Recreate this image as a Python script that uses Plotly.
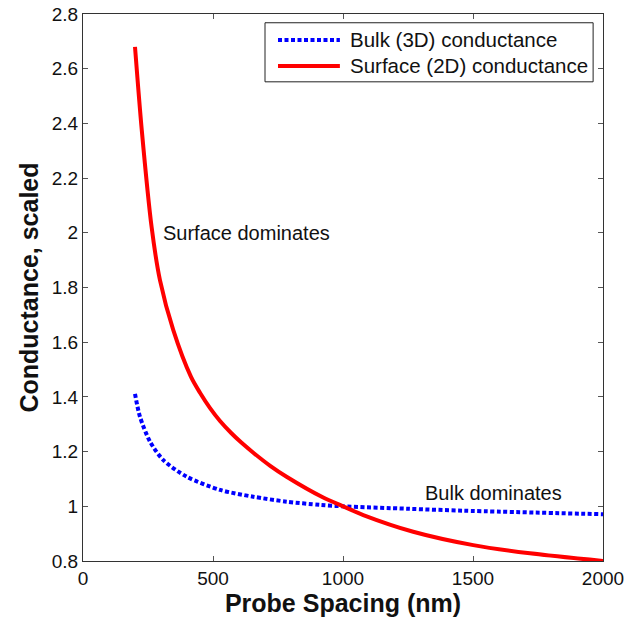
import plotly.graph_objects as go

# Probe spacing (nm) and scaled conductance for the surface (2D) model
surface_x = [200, 226, 264, 296, 347, 415, 450, 488, 527, 570, 610, 655, 720, 783, 924, 1000,
             1078, 1270, 1501, 1719, 2000]
surface_y = [2.68, 2.376, 2.02, 1.827, 1.645, 1.474, 1.415, 1.36, 1.312, 1.268, 1.232, 1.196,
             1.148, 1.108, 1.032, 1.0, 0.968, 0.907, 0.858, 0.828, 0.80]

# Probe spacing (nm) and scaled conductance for the bulk (3D) model
bulk_x = [200, 219, 258, 309, 399, 527, 655, 783, 912, 1000, 1250, 1463, 2000]
bulk_y = [1.411, 1.328, 1.236, 1.169, 1.108, 1.06, 1.035, 1.017, 1.005, 1.0, 0.991, 0.984, 0.971]

series_names = ["Bulk (3D) conductance", "Surface (2D) conductance"]
series_colors = ["#0000ff", "#ff0000"]

x_ticks = [0, 500, 1000, 1500, 2000]
y_ticks = [0.8, 1.0, 1.2, 1.4, 1.6, 1.8, 2.0, 2.2, 2.4, 2.6, 2.8]
y_tick_labels = ["0.8", "1", "1.2", "1.4", "1.6", "1.8", "2", "2.2", "2.4", "2.6", "2.8"]

font_family = "Liberation Sans, Arial, sans-serif"
text_color = "#111111"
dot_dash = "4px,2.5px"

fig = go.Figure()
fig.add_trace(go.Scatter(
    x=bulk_x, y=bulk_y, mode="lines", name=series_names[0], showlegend=False,
    line=dict(color=series_colors[0], width=4, dash=dot_dash, shape="spline", smoothing=0.8),
))
fig.add_trace(go.Scatter(
    x=surface_x, y=surface_y, mode="lines", name=series_names[1], showlegend=False,
    line=dict(color=series_colors[1], width=4, shape="spline", smoothing=0.8),
))

# Text labels inside the plot
fig.add_annotation(x=300, y=2.0, text="Surface dominates", showarrow=False,
                   xanchor="left", yanchor="middle",
                   font=dict(family=font_family, size=20, color=text_color))
fig.add_annotation(x=1306, y=1.047, text="Bulk dominates", showarrow=False,
                   xanchor="left", yanchor="middle",
                   font=dict(family=font_family, size=20, color=text_color))

# Boxed legend in the upper right corner (paper coordinates)
legend_box = dict(x0=0.35, x1=0.981, y0=0.876, y1=0.984)
legend_rows = [0.9525, 0.905]
legend_line_x = (0.375, 0.494)
legend_text_x = 0.5096

fig.add_shape(type="rect", xref="paper", yref="paper", **legend_box,
              line=dict(color="#222222", width=1), fillcolor="white", layer="above")
for row_y, name, color, dash in zip(legend_rows, series_names, series_colors, [dot_dash, "solid"]):
    fig.add_shape(type="line", xref="paper", yref="paper",
                  x0=legend_line_x[0], x1=legend_line_x[1], y0=row_y, y1=row_y,
                  line=dict(color=color, width=4, dash=dash), layer="above")
    fig.add_annotation(xref="paper", yref="paper", x=legend_text_x, y=row_y, text=name,
                       showarrow=False, xanchor="left", yanchor="middle",
                       font=dict(family=font_family, size=20.5, color=text_color))

axis_common = dict(
    showline=True, linecolor="#333333", linewidth=1, mirror="ticks",
    ticks="inside", ticklen=5, tickcolor="#555555", showgrid=False, zeroline=False,
    automargin=False,
    tickfont=dict(family=font_family, size=19, color=text_color),
)

fig.update_layout(
    width=626, height=626,
    margin=dict(l=83, r=23, t=14, b=65),
    paper_bgcolor="white", plot_bgcolor="white",
    xaxis=dict(range=[0, 2000], tickvals=x_ticks,
               title=dict(text="<b>Probe Spacing (nm)</b>", standoff=4,
                          font=dict(family=font_family, size=25, color=text_color)),
               **axis_common),
    yaxis=dict(range=[0.8, 2.8], tickvals=y_ticks, ticktext=y_tick_labels,
               title=dict(text="<b>Conductance, scaled</b>", standoff=6,
                          font=dict(family=font_family, size=25, color=text_color)),
               **axis_common),
    showlegend=False,
)

fig.write_html("out.html")
